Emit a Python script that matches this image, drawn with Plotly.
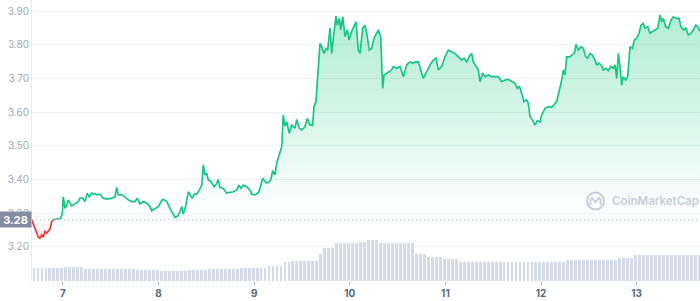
import plotly.graph_objects as go

# ---------------- data ----------------
day = [
    6.673, 6.707, 6.742, 6.759, 6.777, 6.794, 6.812, 6.829, 6.846, 6.864,
    6.882, 6.899, 6.934, 6.951, 6.976, 6.993, 7.003, 7.021, 7.039, 7.055,
    7.073, 7.091, 7.126, 7.160, 7.178, 7.206, 7.230, 7.254, 7.275, 7.300,
    7.353, 7.387, 7.422, 7.457, 7.509, 7.544, 7.562, 7.578, 7.614, 7.649,
    7.683, 7.719, 7.753, 7.777, 7.805, 7.840, 7.876, 7.910, 7.928, 7.962,
    7.997, 8.032, 8.049, 8.085, 8.101, 8.119, 8.137, 8.172, 8.200, 8.224,
    8.242, 8.258, 8.283, 8.311, 8.336, 8.353, 8.373, 8.399, 8.426, 8.451,
    8.468, 8.485, 8.503, 8.520, 8.538, 8.555, 8.583, 8.608, 8.624, 8.642,
    8.677, 8.712, 8.747, 8.781, 8.817, 8.841, 8.862, 8.886, 8.922, 8.956,
    8.974, 9.008, 9.043,
    9.061, 9.089, 9.123, 9.148, 9.173, 9.194, 9.218, 9.235, 9.270, 9.288,
    9.304, 9.322, 9.340, 9.367, 9.392, 9.427, 9.445, 9.472, 9.497, 9.531,
    9.555, 9.584, 9.612, 9.625, 9.646, 9.671, 9.688, 9.706, 9.730, 9.751,
    9.769, 9.793, 9.811, 9.827, 9.856, 9.869, 9.890, 9.905, 9.926, 9.950,
    9.974, 9.992, 10.020, 10.065, 10.089, 10.107, 10.135, 10.159, 10.177, 10.204,
    10.229, 10.253, 10.281, 10.298, 10.323, 10.334, 10.344, 10.358, 10.403, 10.438,
    10.455, 10.491, 10.525, 10.560, 10.595, 10.630, 10.658, 10.682, 10.717, 10.742,
    10.769, 10.804, 10.839, 10.873, 10.902, 10.926, 10.961, 10.996, 11.030, 11.066,
    11.100, 11.135, 11.171, 11.195, 11.223, 11.250, 11.275, 11.292, 11.320, 11.344,
    11.362, 11.390, 11.414, 11.449, 11.484, 11.519, 11.553, 11.589, 11.623, 11.658,
    11.694, 11.728, 11.752, 11.773, 11.798, 11.822, 11.850, 11.867, 11.885, 11.913,
    11.937, 11.961, 11.990, 12.007, 12.042, 12.077, 12.112, 12.146, 12.164, 12.188,
    12.217, 12.233, 12.251, 12.269, 12.303, 12.321, 12.349, 12.366, 12.390, 12.418,
    12.442, 12.468, 12.488, 12.513, 12.537, 12.565, 12.583, 12.607, 12.635, 12.652,
    12.677, 12.704, 12.732, 12.756, 12.774, 12.792, 12.809, 12.826, 12.844, 12.861,
    12.886, 12.907, 12.931, 12.955, 12.976, 13.001, 13.025, 13.046, 13.070, 13.088,
    13.116, 13.140, 13.164, 13.193, 13.221, 13.245, 13.263, 13.280, 13.305, 13.332,
    13.360, 13.384, 13.420, 13.444, 13.465, 13.489, 13.514, 13.541, 13.569, 13.594,
    13.619, 13.640, 13.664,
]

price = [
    3.280, 3.255, 3.228, 3.225, 3.235, 3.228, 3.245, 3.240, 3.245, 3.252,
    3.274, 3.280, 3.282, 3.284, 3.284, 3.299, 3.348, 3.314, 3.324, 3.339,
    3.329, 3.321, 3.327, 3.334, 3.344, 3.344, 3.334, 3.359, 3.348, 3.359,
    3.354, 3.356, 3.344, 3.341, 3.344, 3.348, 3.376, 3.354, 3.354, 3.348,
    3.339, 3.334, 3.334, 3.344, 3.327, 3.334, 3.329, 3.319, 3.307, 3.314,
    3.319, 3.337, 3.341, 3.334, 3.324, 3.317, 3.304, 3.287, 3.291, 3.304,
    3.319, 3.297, 3.319, 3.363, 3.351, 3.344, 3.356, 3.356, 3.368, 3.383,
    3.443, 3.413, 3.418, 3.398, 3.396, 3.388, 3.378, 3.388, 3.400, 3.376,
    3.373, 3.359, 3.360, 3.363, 3.368, 3.383, 3.373, 3.383, 3.378, 3.368,
    3.356, 3.354, 3.360,
    3.373, 3.403, 3.390, 3.390, 3.398, 3.426, 3.413, 3.448, 3.477, 3.497,
    3.591, 3.558, 3.571, 3.537, 3.561, 3.552, 3.578, 3.552, 3.547, 3.556,
    3.581, 3.561, 3.561, 3.616, 3.631, 3.735, 3.804, 3.794, 3.774, 3.789,
    3.784, 3.849, 3.774, 3.819, 3.885, 3.858, 3.878, 3.844, 3.883, 3.824,
    3.844, 3.814, 3.839, 3.868, 3.784, 3.774, 3.849, 3.858, 3.834, 3.784,
    3.789, 3.819, 3.834, 3.844, 3.824, 3.745, 3.670, 3.710, 3.720, 3.725,
    3.735, 3.730, 3.735, 3.705, 3.740, 3.749, 3.745, 3.749, 3.749, 3.725,
    3.700, 3.720, 3.740, 3.754, 3.760, 3.725, 3.735, 3.764, 3.784, 3.779,
    3.774, 3.764, 3.754, 3.760, 3.749, 3.766, 3.774, 3.749, 3.735, 3.725,
    3.690, 3.715, 3.705, 3.710, 3.705, 3.705, 3.705, 3.690, 3.695, 3.697,
    3.690, 3.685, 3.670, 3.677, 3.656, 3.631, 3.636, 3.626, 3.586, 3.576,
    3.561, 3.574, 3.571, 3.591, 3.611, 3.616, 3.614, 3.626, 3.631, 3.660,
    3.695, 3.725, 3.710, 3.764, 3.764, 3.769, 3.774, 3.801, 3.784, 3.794,
    3.789, 3.764, 3.760, 3.774, 3.769, 3.754, 3.740, 3.745, 3.737, 3.725,
    3.730, 3.723, 3.735, 3.730, 3.740, 3.700, 3.774, 3.735, 3.680, 3.705,
    3.695, 3.705, 3.794, 3.789, 3.814, 3.819, 3.834, 3.858, 3.863, 3.849,
    3.853, 3.834, 3.839, 3.844, 3.849, 3.888, 3.868, 3.878, 3.853, 3.849,
    3.873, 3.883, 3.878, 3.878, 3.853, 3.844, 3.849, 3.829, 3.834, 3.844,
    3.858, 3.853, 3.839,
]

open_price = 3.28

# hourly 24h volume (million USD), starting at vol_start_day
vol_start_day = 6.676
volume_musd = [
    260, 260, 260, 260, 260, 260, 260, 260,
    280, 280, 280, 280, 280,
    246, 246, 246, 246, 246, 246, 246, 246,
    240, 240, 240, 240, 240,
    220, 220, 220, 220, 220, 220,
    200, 200, 200, 200, 200, 200, 200,
    220, 220, 220, 220, 220,
    246, 246, 246, 246, 246, 246, 246, 246,
    266, 266, 266, 266, 266, 266, 266,
    300, 300, 300, 300,
    380, 380,
    400, 400, 400, 400, 400, 400, 400,
    540,
    660, 660, 660,
    760, 760, 760, 760, 760, 760,
    780, 780,
    826, 826, 826,
    760, 760, 760, 760, 760, 760, 760, 760, 760,
    540, 540, 540,
    472, 472, 472, 472,
    440, 440, 440, 440,
    380, 380, 380, 380, 380, 380, 380, 380, 380, 380,
    380, 380, 380, 380, 380, 380, 380, 380, 380, 380,
    380, 380, 380, 380, 380, 380, 380,
    414, 414, 414, 414, 414, 414, 414, 414,
    426, 426, 426, 426, 426,
    466, 466, 466, 466,
    530, 530, 530, 530, 530, 530,
    520, 520, 520, 520, 520, 520, 520, 520, 520, 520, 520,
]

y_ticks = [3.20, 3.30, 3.40, 3.50, 3.60, 3.70, 3.80, 3.90]
x_ticks = [7, 8, 9, 10, 11, 12, 13]
x_tick_labels = ["7", "8", "9", "10", "11", "12", "13"]

assert len(day) == len(price)

# ---------------- styling ----------------
GREEN = "#16c784"
RED = "#ea3943"
FONT = "Inter"
W, H = 700, 301
M_L, M_R, M_T, M_B = 32, 0, 0, 20
plot_h = H - M_T - M_B
X_RANGE = [6.676, 13.663]
Y_RANGE = [3.098, 3.9327]
VOL_PER_PX = 20


def split_segments(xs, ys, base):
    segs = []
    cur_up = ys[0] >= base
    cx, cy = [xs[0]], [ys[0]]
    for i in range(1, len(xs)):
        up = ys[i] >= base
        if up != cur_up:
            y0, y1 = ys[i - 1], ys[i]
            t = (base - y0) / (y1 - y0) if y1 != y0 else 0.0
            xc = xs[i - 1] + t * (xs[i] - xs[i - 1])
            cx.append(xc)
            cy.append(base)
            segs.append((cur_up, cx, cy))
            cx, cy = [xc], [base]
            cur_up = up
        cx.append(xs[i])
        cy.append(ys[i])
    segs.append((cur_up, cx, cy))
    return segs


fig = go.Figure()

# volume bars
vol_x = [vol_start_day + (k + 0.5) / 24 for k in range(len(volume_musd))]
fig.add_trace(go.Bar(
    x=vol_x, y=volume_musd, yaxis="y2",
    width=[0.72 / 24] * len(volume_musd),
    marker=dict(color="#d5daE7", line=dict(width=0)),
    hoverinfo="skip", showlegend=False,
))

segs = split_segments(day, price, open_price)

# fills
for up, xs, ys in segs:
    if len(xs) < 2:
        continue
    if up:
        grad = dict(type="vertical", start=open_price, stop=3.90,
                    colorscale=[[0, "rgba(22,199,132,0.0)"], [1, "rgba(22,199,132,0.34)"]])
    else:
        grad = dict(type="vertical", start=open_price, stop=3.20,
                    colorscale=[[0, "rgba(234,57,67,0.0)"], [1, "rgba(234,57,67,0.18)"]])
    fig.add_trace(go.Scatter(
        x=xs + [xs[-1], xs[0]], y=ys + [open_price, open_price],
        mode="lines", line=dict(width=0), fill="toself",
        fillgradient=grad, hoverinfo="skip", showlegend=False,
    ))

# lines
for up, xs, ys in segs:
    if len(xs) < 2:
        continue
    fig.add_trace(go.Scatter(
        x=xs, y=ys, mode="lines",
        line=dict(color=GREEN if up else RED, width=1.7),
        hoverinfo="skip", showlegend=False,
    ))

# dotted open-price line
fig.add_shape(type="line", xref="paper", x0=0, x1=1, yref="y",
              y0=open_price, y1=open_price,
              line=dict(color="#a6b0c3", width=1, dash="1px,3px"))

# price label box
fig.add_annotation(
    xref="paper", x=0, xanchor="right", yref="y", y=open_price, yanchor="middle",
    text=f"<b>{open_price:.2f}</b>", showarrow=False,
    font=dict(family=FONT, size=11, color="white"),
    bgcolor="#858ca2", width=29, height=13, borderpad=1, align="center",
)

# watermark
logo_x = (595.5 - M_L) / (W - M_L - M_R)
logo_y = 1 - 201 / plot_h
wm_col = "#c9cdd8"
fig.add_shape(type="circle", xref="paper", yref="paper",
              xsizemode="pixel", ysizemode="pixel",
              xanchor=logo_x, yanchor=logo_y,
              x0=-8.5, x1=8.5, y0=-8.5, y1=8.5,
              line=dict(color=wm_col, width=2))
fig.add_shape(type="path", xref="paper", yref="paper",
              xsizemode="pixel", ysizemode="pixel",
              xanchor=logo_x, yanchor=logo_y,
              path="M -5,-4 L -5,1 Q -4.5,4 -2.5,2 L 0,-1 L 2.5,2 Q 4.5,4 5,1 L 5,-4",
              line=dict(color=wm_col, width=1.8))
fig.add_annotation(
    xref="paper", x=(610 - M_L) / (W - M_L - M_R), xanchor="left",
    yref="paper", y=logo_y, yanchor="middle",
    text="CoinMarketCap", showarrow=False,
    font=dict(family=FONT, size=11.5, color=wm_col, weight=600),
)

fig.update_layout(
    width=W, height=H,
    margin=dict(l=M_L, r=M_R, t=M_T, b=M_B),
    paper_bgcolor="white", plot_bgcolor="white",
    showlegend=False, hovermode=False,
    bargap=0,
    xaxis=dict(
        range=X_RANGE, tickvals=x_ticks, ticktext=x_tick_labels,
        showgrid=False, zeroline=False, showline=False,
        ticks="outside", ticklen=3, tickcolor="#a6b0c3", tickwidth=1,
        tickfont=dict(family=FONT, size=10, color="#58667e", weight=700),
    ),
    yaxis=dict(
        range=Y_RANGE, tickvals=y_ticks, tickformat=".2f",
        showgrid=True, gridcolor="#eff2f5", gridwidth=1,
        zeroline=False, showline=True, linecolor="#e6e9ef", linewidth=1,
        ticks="", tickfont=dict(family=FONT, size=10, color="#a1a7bb"),
    ),
    yaxis2=dict(
        overlaying="y", range=[0, plot_h * VOL_PER_PX], visible=False,
    ),
)

fig.write_html("out.html")
